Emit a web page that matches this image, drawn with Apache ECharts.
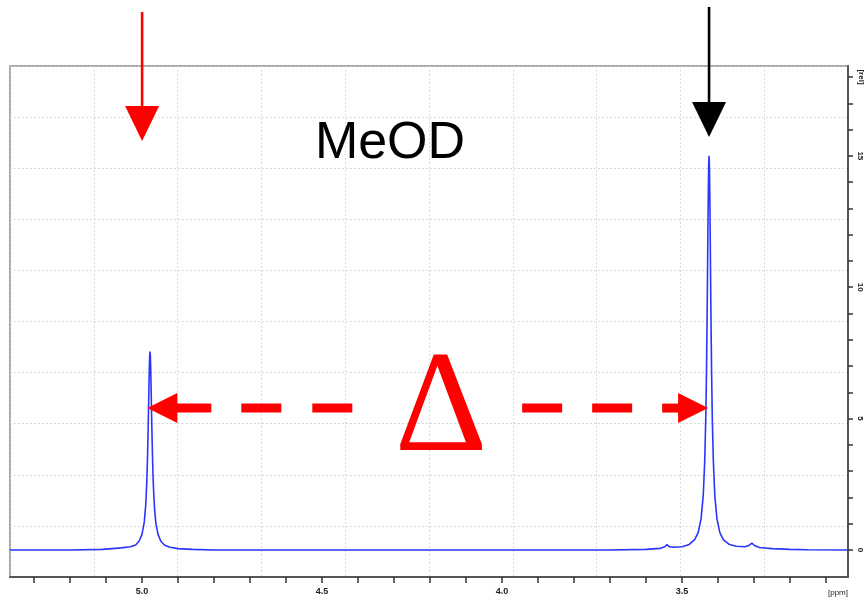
<!DOCTYPE html>
<html>
<head>
<meta charset="utf-8">
<script src="https://cdn.jsdelivr.net/npm/echarts@6/dist/echarts.min.js"></script>
<style>
  html, body { margin: 0; padding: 0; background: #fff; }
  #chart { width: 865px; height: 600px; }
</style>
</head>
<body>
<div id="chart"></div>
<script>
// 1H NMR trace in MeOD: chemical shift (ppm) and relative intensity
const shiftPpm = [
  5.367, 5.200, 5.110, 5.058, 5.033, 5.018, 5.008, 5.000, 4.994, 4.990,
  4.987, 4.985, 4.983, 4.982, 4.981, 4.980, 4.979, 4.978, 4.977, 4.976,
  4.975, 4.974, 4.973, 4.971, 4.969, 4.966, 4.962, 4.956, 4.948, 4.938,
  4.923, 4.900, 4.860, 4.800, 4.500, 4.000, 3.700, 3.600, 3.560, 3.548,
  3.542, 3.536, 3.525, 3.500, 3.480, 3.465, 3.455, 3.447, 3.441, 3.437,
  3.434, 3.432, 3.430, 3.429, 3.428, 3.427, 3.426, 3.425, 3.424, 3.423,
  3.422, 3.421, 3.420, 3.418, 3.416, 3.413, 3.409, 3.403, 3.395, 3.385,
  3.370, 3.350, 3.325, 3.313, 3.306, 3.299, 3.285, 3.250, 3.200, 3.150,
  3.039
];
const intensity = [
  0.00, 0.00, 0.02, 0.08, 0.12, 0.19, 0.34, 0.61, 1.06, 1.70,
  2.58, 3.50, 4.75, 5.50, 6.20, 6.90, 7.37, 7.55, 7.35, 6.85,
  6.15, 5.45, 4.70, 3.45, 2.55, 1.68, 1.04, 0.60, 0.33, 0.19,
  0.10, 0.05, 0.02, 0.00, 0.00, 0.00, 0.00, 0.02, 0.06, 0.12,
  0.20, 0.13, 0.10, 0.12, 0.21, 0.39, 0.67, 1.20, 2.10, 3.40,
  5.10, 6.90, 9.40, 10.90, 12.40, 13.70, 14.65, 15.00, 14.60, 13.60,
  12.30, 10.80, 9.30, 6.80, 5.00, 3.35, 2.05, 1.18, 0.66, 0.38,
  0.22, 0.14, 0.12, 0.18, 0.26, 0.17, 0.09, 0.05, 0.02, 0.01,
  0.00
];

// axis labelling
const ppmTicks = [3.1, 3.2, 3.3, 3.4, 3.5, 3.6, 3.7, 3.8, 3.9, 4.0, 4.1, 4.2,
                  4.3, 4.4, 4.5, 4.6, 4.7, 4.8, 4.9, 5.0, 5.1, 5.2, 5.3];
const ppmLabels = [3.5, 4.0, 4.5, 5.0];
const relTicks = [0, 1, 2, 3, 4, 5, 6, 7, 8, 9, 10, 11, 12, 13, 14, 15, 16, 17, 18];
const relLabels = [0, 5, 10, 15];

// annotation anchors (ppm / intensity)
const solventMarkPpm = 5.0;       // red marker
const methylMarkPpm = 3.425;      // black marker on the tall peak
const leftTipPpm = 4.9855;
const rightTipPpm = 3.4275;
const deltaLevel = 5.4;

const chart = echarts.init(document.getElementById('chart'), null, { renderer: 'canvas' });

const gridDots = { color: '#cdcdcd', type: [1.5, 2.5], width: 1 };

const option = {
  animation: false,
  backgroundColor: '#ffffff',
  grid: {
    left: 10, right: 17, top: 66, bottom: 23,
    show: true, borderColor: '#a8a8a8', borderWidth: 2, backgroundColor: '#ffffff'
  },
  xAxis: [
    {
      type: 'value', inverse: true, min: 3.039, max: 5.367,
      axisLine: { show: true, onZero: false, lineStyle: { color: '#555', width: 2 } },
      axisTick: { show: true, customValues: ppmTicks, length: 6, lineStyle: { color: '#333', width: 1.5 } },
      axisLabel: {
        show: true, customValues: ppmLabels, margin: 10,
        formatter: v => v.toFixed(1),
        fontSize: 9, fontWeight: 'bold', color: '#222', fontFamily: 'Liberation Sans'
      },
      splitLine: { show: false }
    },
    {
      type: 'value', min: 0, max: 10, interval: 1, position: 'bottom',
      axisLine: { show: false }, axisTick: { show: false }, axisLabel: { show: false },
      splitLine: { show: true, lineStyle: gridDots }
    }
  ],
  yAxis: [
    {
      type: 'value', position: 'right', min: -1.03, max: 18.42,
      axisLine: { show: true, onZero: false, lineStyle: { color: '#555', width: 2 } },
      axisTick: { show: true, customValues: relTicks, length: 5, lineStyle: { color: '#333', width: 1.5 } },
      axisLabel: {
        show: true, customValues: relLabels, margin: 8, rotate: -90,
        fontSize: 8, fontWeight: 'bold', color: '#222', fontFamily: 'Liberation Sans'
      },
      splitLine: { show: false }
    },
    {
      type: 'value', min: 0, max: 10, interval: 1, position: 'left',
      axisLine: { show: false }, axisTick: { show: false }, axisLabel: { show: false },
      splitLine: { show: true, lineStyle: gridDots }
    }
  ],
  series: [
    {
      type: 'line', xAxisIndex: 0, yAxisIndex: 0,
      data: shiftPpm.map((p, i) => [p, intensity[i]]),
      showSymbol: false, silent: true,
      lineStyle: { color: '#2a35ff', width: 1.6 }
    }
  ]
};
chart.setOption(option);

// annotations placed from axis coordinates
const px = (p, v) => chart.convertToPixel({ xAxisIndex: 0, yAxisIndex: 0 }, [p, v]);
const red = '#ff0000';
const els = [];

// red marker above the 5.0 ppm region
const rx = px(solventMarkPpm, 0)[0];
els.push({ type: 'line', shape: { x1: rx, y1: 12, x2: rx, y2: 110 }, style: { stroke: red, lineWidth: 2.6 }, z: 100 });
els.push({ type: 'polygon', shape: { points: [[rx - 17, 106], [rx + 17, 106], [rx, 141]] }, style: { fill: red }, z: 100 });

// black marker above the tall peak
const bx = px(methylMarkPpm, 0)[0];
els.push({ type: 'line', shape: { x1: bx, y1: 7, x2: bx, y2: 106 }, style: { stroke: '#000', lineWidth: 2.6 }, z: 100 });
els.push({ type: 'polygon', shape: { points: [[bx - 17, 102], [bx + 17, 102], [bx, 137]] }, style: { fill: '#000' }, z: 100 });

// dashed double arrow between the two peaks
const lt = px(leftTipPpm, deltaLevel);
const rt = px(rightTipPpm, deltaLevel);
const ay = lt[1];
const bar = (x1, x2) => ({ type: 'rect', shape: { x: Math.min(x1, x2), y: ay - 4.5, width: Math.abs(x2 - x1), height: 9 }, style: { fill: red }, z: 100 });
els.push({ type: 'polygon', shape: { points: [[lt[0], ay], [lt[0] + 30, ay - 15], [lt[0] + 30, ay + 15]] }, style: { fill: red }, z: 100 });
els.push(bar(lt[0] + 29, lt[0] + 64));
els.push(bar(lt[0] + 94, lt[0] + 134));
els.push(bar(lt[0] + 165, lt[0] + 205));
els.push({ type: 'polygon', shape: { points: [[rt[0], ay], [rt[0] - 30, ay - 15], [rt[0] - 30, ay + 15]] }, style: { fill: red }, z: 100 });
els.push(bar(rt[0] - 29, rt[0] - 46));
els.push(bar(rt[0] - 116, rt[0] - 76));
els.push(bar(rt[0] - 186, rt[0] - 146));

// titles
els.push({ type: 'text', x: 390, y: 118, style: { text: 'MeOD', fontSize: 52, fontFamily: 'Liberation Sans', fill: '#000', align: 'center', verticalAlign: 'top' }, z: 100 });
els.push({ type: 'text', x: 441, y: 340, style: { text: 'Δ', fontSize: 144, fontFamily: 'Liberation Serif', fill: red, align: 'center', verticalAlign: 'top' }, z: 100 });

// axis unit labels
els.push({ type: 'text', x: 838, y: 593, style: { text: '[ppm]', fontSize: 8, fontFamily: 'Liberation Sans', fill: '#222', align: 'center', verticalAlign: 'middle' }, z: 100 });
els.push({ type: 'text', x: 861, y: 77, rotation: -Math.PI / 2, style: { text: '[rel]', fontSize: 8, fontFamily: 'Liberation Sans', fontWeight: 'bold', fill: '#222', align: 'center', verticalAlign: 'middle' }, z: 100 });

chart.setOption({ graphic: { elements: els } });
</script>
</body>
</html>
